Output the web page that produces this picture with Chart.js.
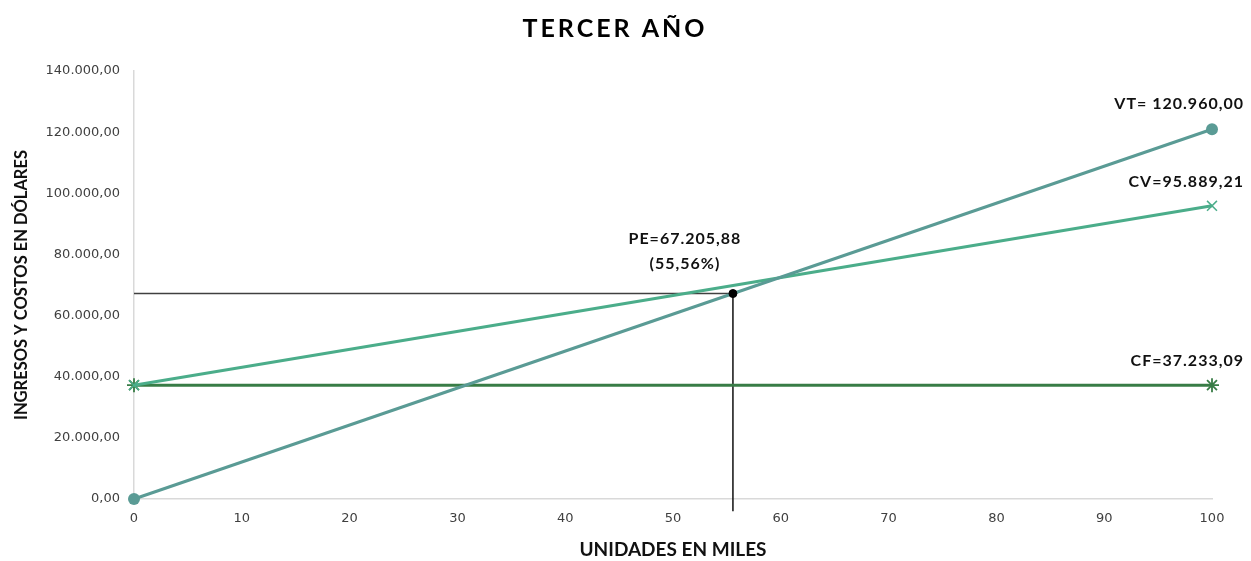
<!DOCTYPE html>
<html>
<head>
<meta charset="utf-8">
<script src="https://cdn.jsdelivr.net/npm/chart.js@4.4.1/dist/chart.umd.min.js"></script>
<style>
  html, body { margin: 0; padding: 0; background: #fff; }
  #wrap { width: 1251px; height: 561px; }
</style>
</head>
<body>
<div id="wrap"><canvas id="peChart" width="1251" height="561"></canvas></div>
<script>
// units (thousands) on the x axis
const units = [0, 100];
// sales, variable cost and fixed cost at 0 and 100 thousand units
const ventasTotales = [0, 120960.00];
const costoVariable = [37233.09, 95889.21];
const costoFijo = [37233.09, 37233.09];
// break-even point
const peUnits = 55.56;
const peValue = 67205.88;
const pePercent = '55,56%';
const yTicks = [0, 20000, 40000, 60000, 80000, 100000, 120000, 140000];
const xTicks = [0, 10, 20, 30, 40, 50, 60, 70, 80, 90, 100];

// 120960 -> "120.960,00"
function fmt(v) {
  const parts = Math.abs(v).toFixed(2).split('.');
  const ent = parts[0].replace(/\B(?=(\d{3})+(?!\d))/g, '.');
  return (v < 0 ? '-' : '') + ent + ',' + parts[1];
}

const colVT = '#5a9b95';
const colCV = '#4bad8a';
const colCF = '#387c46';

const toPts = (xs, ys) => xs.map((x, i) => ({ x: x, y: ys[i] }));

const titlePlugin = {
  id: 'tituloAnio',
  afterDraw(chart) {
    const ctx = chart.ctx;
    ctx.save();
    ctx.font = 'bold 25px Lato, "Open Sans", sans-serif';
    ctx.fillStyle = '#000';
    ctx.textAlign = 'center';
    ctx.textBaseline = 'middle';
    ctx.letterSpacing = '3px';
    ctx.fillText('TERCER AÑO', 615, 29);
    ctx.restore();
  }
};

// value labels next to the end points and over the break-even point
const labelPlugin = {
  id: 'etiquetas',
  afterDatasetsDraw(chart) {
    const ctx = chart.ctx;
    const xs = chart.scales.x, ys = chart.scales.y;
    const last = units.length - 1;
    ctx.save();
    ctx.font = 'bold 16px Lato, "Open Sans", sans-serif';
    ctx.letterSpacing = '1px';
    ctx.fillStyle = '#111';
    ctx.textBaseline = 'middle';
    ctx.textAlign = 'right';
    const endX = xs.getPixelForValue(units[last]) + 32;
    ctx.fillText('VT= ' + fmt(ventasTotales[last]), endX, ys.getPixelForValue(ventasTotales[last]) - 25);
    ctx.fillText('CV=' + fmt(costoVariable[last]), endX, ys.getPixelForValue(costoVariable[last]) - 24);
    ctx.fillText('CF=' + fmt(costoFijo[last]), endX, ys.getPixelForValue(costoFijo[last]) - 24);
    ctx.textAlign = 'center';
    const px = xs.getPixelForValue(peUnits) - 48;
    const py = ys.getPixelForValue(peValue);
    ctx.fillText('PE=' + fmt(peValue), px, py - 55);
    ctx.fillText('(' + pePercent + ')', px, py - 30);
    ctx.restore();
  }
};

const tickFont = { family: '"DejaVu Sans", sans-serif', size: 13 };

new Chart(document.getElementById('peChart'), {
  type: 'line',
  data: {
    datasets: [
      {
        label: 'PE horizontal',
        data: [{ x: 0, y: peValue }, { x: peUnits, y: peValue }],
        borderColor: '#404040',
        borderWidth: 1.5,
        pointRadius: 0,
        order: 5
      },
      {
        label: 'PE vertical',
        data: [{ x: peUnits, y: peValue }, { x: peUnits, y: -4000 }],
        borderColor: '#111',
        borderWidth: 1.5,
        pointRadius: 0,
        clip: false,
        order: 5
      },
      {
        label: 'CF',
        data: toPts(units, costoFijo),
        borderColor: colCF,
        backgroundColor: colCF,
        borderWidth: 3,
        pointStyle: 'star',
        pointRadius: 7,
        pointBorderWidth: 1.8,
        clip: false,
        order: 3
      },
      {
        label: 'CV',
        data: toPts(units, costoVariable),
        borderColor: colCV,
        backgroundColor: colCV,
        borderWidth: 3,
        pointStyle: 'crossRot',
        pointRadius: 7,
        pointBorderWidth: 1.5,
        clip: false,
        order: 2
      },
      {
        label: 'VT',
        data: toPts(units, ventasTotales),
        borderColor: colVT,
        backgroundColor: colVT,
        borderWidth: 3,
        pointStyle: 'circle',
        pointRadius: 6,
        pointBorderWidth: 0,
        clip: false,
        order: 1
      },
      {
        label: 'PE',
        data: [{ x: peUnits, y: peValue }],
        showLine: false,
        backgroundColor: '#000',
        borderColor: '#000',
        pointRadius: 4,
        clip: false,
        order: 0
      }
    ]
  },
  options: {
    responsive: false,
    animation: false,
    layout: { padding: { top: 71, right: 39, left: 6, bottom: 0 } },
    plugins: {
      legend: { display: false },
      tooltip: { enabled: false }
    },
    scales: {
      x: {
        type: 'linear',
        min: 0,
        max: 100,
        afterBuildTicks: (s) => { s.ticks = xTicks.map(v => ({ value: v })); },
        afterFit: (s) => { s.height = 62; },
        grid: { display: false, drawTicks: false },
        border: { display: true, color: '#d9d9d9', width: 1.5 },
        ticks: {
          padding: 12,
          color: '#404040',
          font: tickFont
        },
        title: {
          display: true,
          text: 'UNIDADES EN MILES',
          color: '#111',
          font: { family: 'Lato, "Open Sans", sans-serif', size: 19, weight: 'bold' },
          padding: { top: 0, bottom: 0 }
        }
      },
      y: {
        type: 'linear',
        min: 0,
        max: 140000,
        afterBuildTicks: (s) => { s.ticks = yTicks.map(v => ({ value: v })); },
        afterFit: (s) => { s.width = 128; },
        grid: { display: false, drawTicks: false },
        border: { display: true, color: '#d9d9d9', width: 1.5 },
        ticks: {
          padding: 14,
          color: '#404040',
          font: tickFont,
          callback: (v) => fmt(v)
        },
        title: {
          display: true,
          text: 'INGRESOS Y COSTOS EN DÓLARES',
          color: '#111',
          font: { family: 'Lato, "Open Sans", sans-serif', size: 16.5, weight: 'bold' },
          padding: { top: 6, bottom: 0 }
        }
      }
    }
  },
  plugins: [titlePlugin, labelPlugin]
});
</script>
</body>
</html>
